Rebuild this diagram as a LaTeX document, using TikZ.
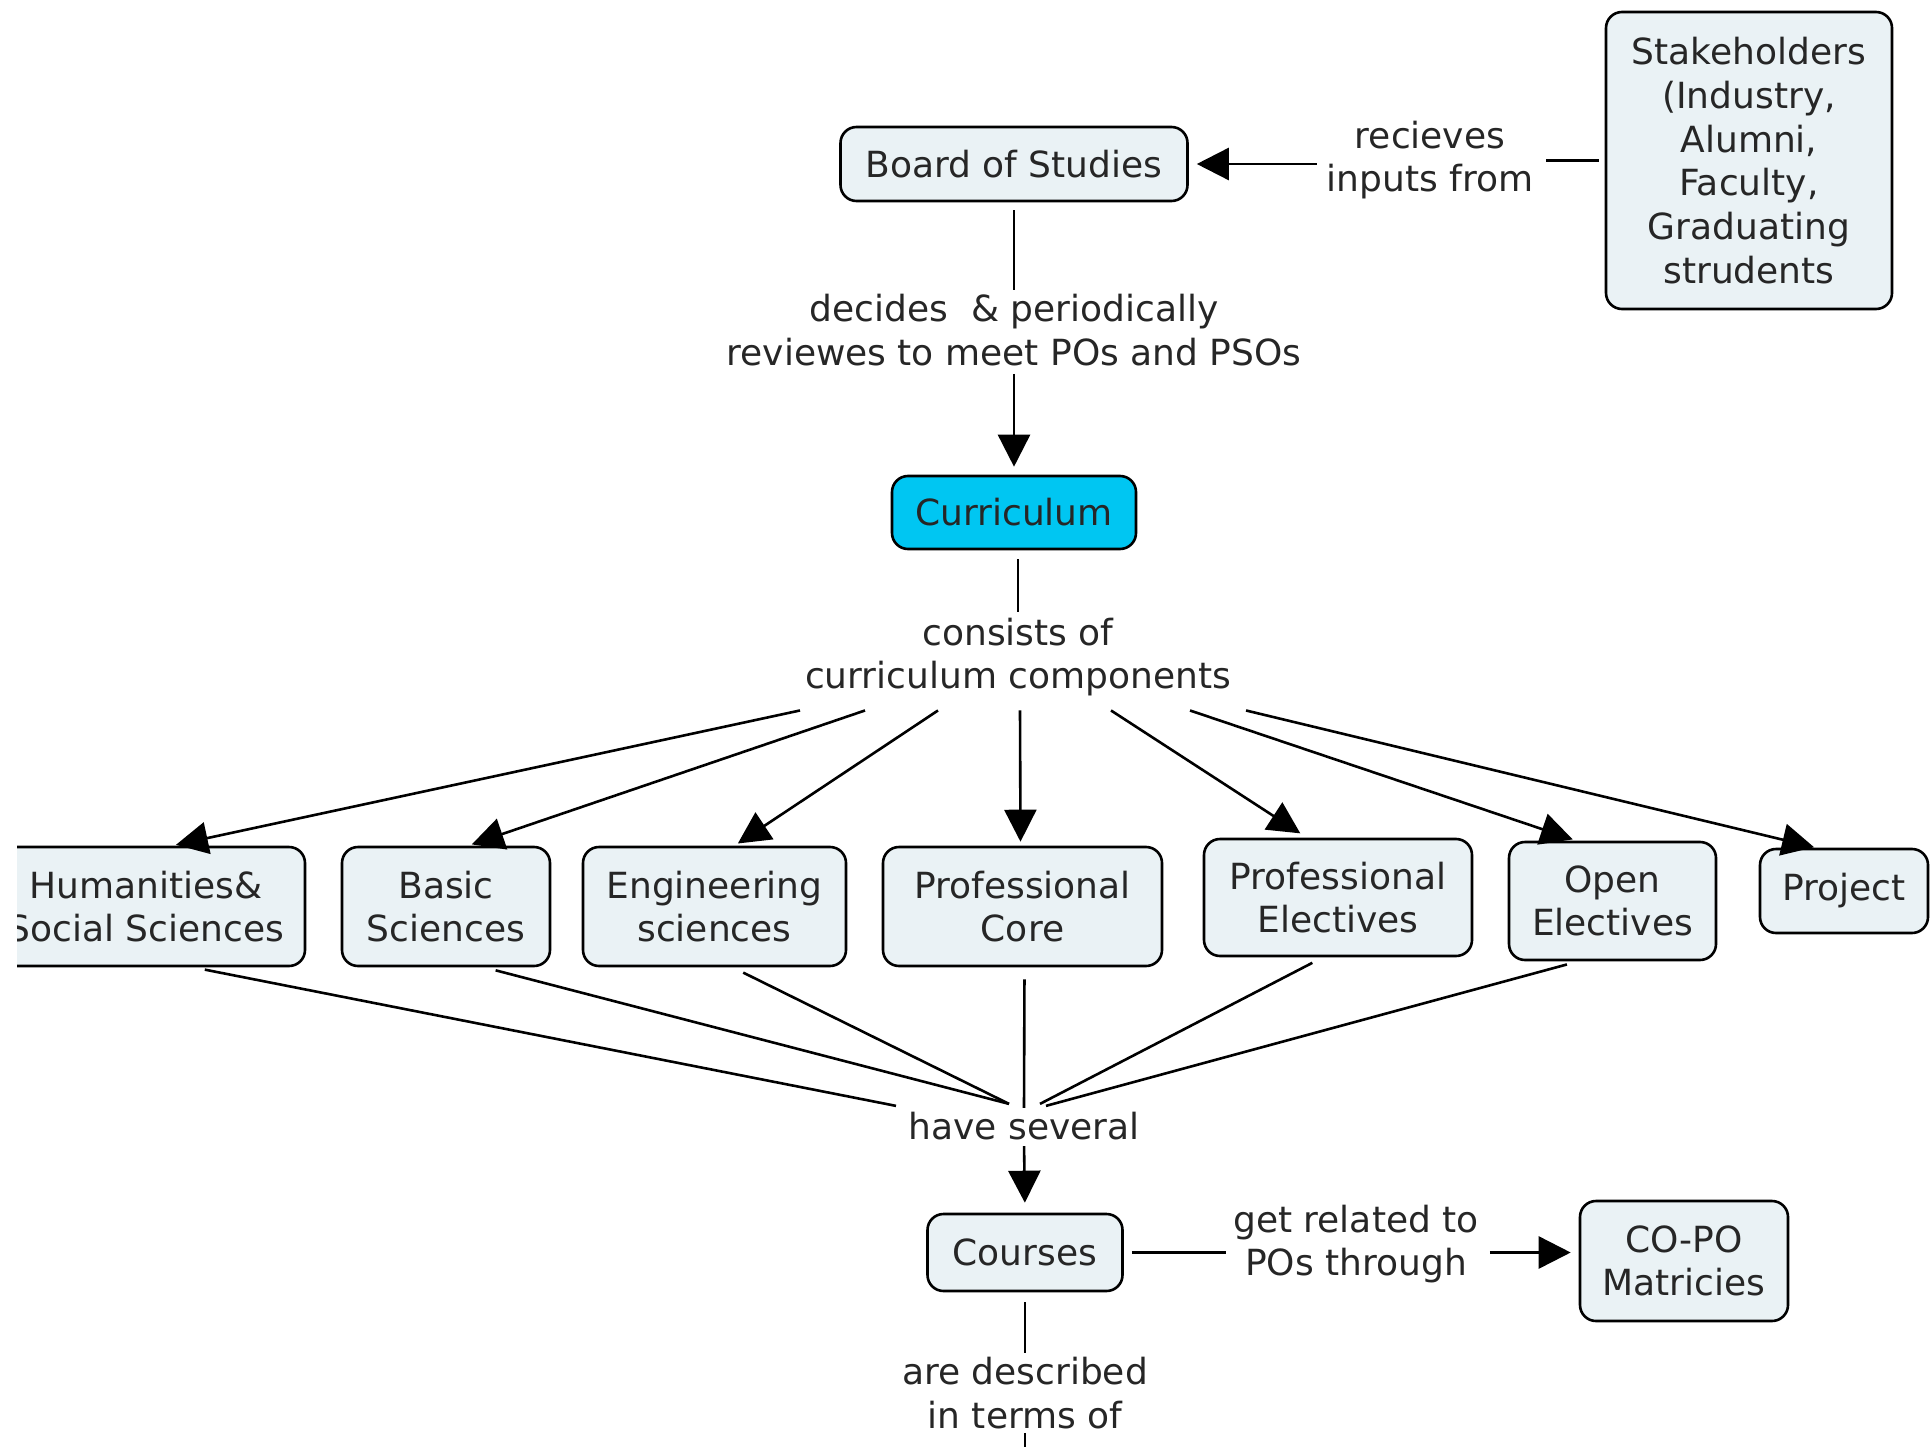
\documentclass[tikz,border=0pt]{standalone}
\usepackage{fontspec}
\setmainfont{DejaVu Sans}
\usetikzlibrary{arrows.meta,calc}
\definecolor{nodefill}{HTML}{EAF2F5}
\definecolor{curfill}{HTML}{00C6F2}
\definecolor{ink}{HTML}{262626}
\newcommand\cmfont{\fontsize{36}{43.7}\selectfont}
\begin{document}
\begin{tikzpicture}[x=1pt,y=-1pt,
  concept/.style={draw=black, fill=nodefill, rounded corners=16pt, line width=2.6pt, align=center, font=\cmfont, text=ink, inner sep=0pt},
  lab/.style={align=center, font=\cmfont, text=ink, inner sep=2pt},
  conn/.style={line width=2.6pt, draw=black},
  arr/.style={conn, -{Triangle[length=32pt,width=32pt]}}]
\useasboundingbox (0,0) rectangle (1930,1447);
\begin{scope}
\clip (17,0) rectangle (1930,1447);
% concepts
\node[concept, minimum width=347pt, minimum height=74pt] (bos) at (1014,164) {Board of Studies};
\node[concept, minimum width=286pt, minimum height=297pt] (stake) at (1749,160.5) {Stakeholders\\(Industry,\\Alumni,\\Faculty,\\Graduating\\strudents};
\node[concept, fill=curfill, minimum width=244pt, minimum height=73pt] (cur) at (1014,512.5) {Curriculum};
\node[concept, minimum width=318pt, minimum height=119pt] (hum) at (146,906.5) {Humanities\&\\Social Sciences};
\node[concept, minimum width=208pt, minimum height=119pt] (bas) at (446,906.5) {Basic\\Sciences};
\node[concept, minimum width=263pt, minimum height=119pt] (eng) at (714.5,906.5) {Engineering\\sciences};
\node[concept, minimum width=279pt, minimum height=119pt] (core) at (1022.5,906.5) {Professional\\Core};
\node[concept, minimum width=268pt, minimum height=117pt] (pel) at (1338,897.5) {Professional\\Electives};
\node[concept, minimum width=207pt, minimum height=118pt] (oel) at (1612.5,901) {Open\\Electives};
\node[concept, minimum width=168pt, minimum height=84pt] (prj) at (1844,891) {Project};
\node[concept, minimum width=195pt, minimum height=77pt] (crs) at (1025,1252.5) {Courses};
\node[concept, minimum width=208pt, minimum height=120pt] (copo) at (1684,1261) {CO-PO\\Matricies};
% linking phrases
\node[lab] (rec) at (1430,160) {recieves\\inputs from};
\node[lab] (dec) at (1014,330) {decides\ \ \& periodically\\reviewes to meet POs and PSOs};
\node[lab] (cons) at (1018,657) {consists of\\curriculum components};
\node[lab] (hs) at (1024,1126) {have several};
\node[lab] (gr) at (1356,1244) {get related to\\POs through};
\node[lab] (ad) at (1025,1393) {are described\\in terms of};
\coordinate (bot) at (1025,1447);
% connectors
\draw[conn] ($(stake.west)+(-6,0)$) -- ($(rec.east |- stake.west)+(10,0)$);
\draw[arr] ($(rec.west |- bos.east)+(-8,0)$) -- ($(bos.east)+(8,0)$);
\draw[conn, shorten <=8pt, shorten >=2pt] (bos.south) -- (dec.north);
\draw[arr, shorten <=6pt, shorten >=8pt] (dec.south) -- (cur.north);
\draw[conn, shorten <=9pt, shorten >=4pt] (cur.south -| cons.north) -- (cons.north);
\draw[arr, shorten >=4pt] ($(cons.south)+(-218,12)$) -- ([xshift=26pt]hum.north);
\draw[arr, shorten >=4pt] ($(cons.south)+(-153,12)$) -- ([xshift=22pt]bas.north);
\draw[arr, shorten >=4pt] ($(cons.south)+(-80,12)$) -- ([xshift=20pt]eng.north);
\draw[arr, shorten >=4pt] ($(cons.south)+(2,12)$) -- ([xshift=-2pt]core.north);
\draw[arr, shorten >=8pt] ($(cons.south)+(93,12)$) -- ([xshift=-31pt]pel.north);
\draw[arr, shorten >=4pt] ($(cons.south)+(172,12)$) -- ([xshift=-36pt]oel.north);
\draw[arr, shorten >=2pt] ($(cons.south)+(228,12)$) -- ([xshift=-28pt]prj.north);
\draw[conn, shorten <=12pt] ([xshift=47pt]hum.south) -- ($(hs.north)+(-128,-4)$);
\draw[conn, shorten <=12pt] ([xshift=38pt]bas.south) -- ($(hs.north)+(-15,-6)$);
\draw[conn, shorten <=12pt] ([xshift=18pt]eng.south) -- ($(hs.north)+(-15,-6)$);
\draw[conn, shorten <=12pt] ([xshift=2pt]core.south) -- ($(hs.north)+(0,-2)$);
\draw[conn, shorten <=12pt] ([xshift=-15pt]pel.south) -- ($(hs.north)+(16,-6)$);
\draw[conn, shorten <=12pt] ([xshift=-34pt]oel.south) -- ($(hs.north)+(22,-4)$);
\draw[arr, shorten <=4pt, shorten >=10pt] (hs.south) -- (crs.north);
\draw[conn, shorten <=8pt, shorten >=5pt] (crs.east) -- (gr.west |- crs.east);
\draw[arr, shorten <=9pt, shorten >=8pt] (gr.east |- crs.east) -- (copo.west |- crs.east);
\draw[conn, shorten <=10pt, shorten >=2pt] (crs.south) -- (ad.north);
\draw[conn, shorten <=2pt] (ad.south) -- (bot);
\end{scope}
\end{tikzpicture}
\end{document}
